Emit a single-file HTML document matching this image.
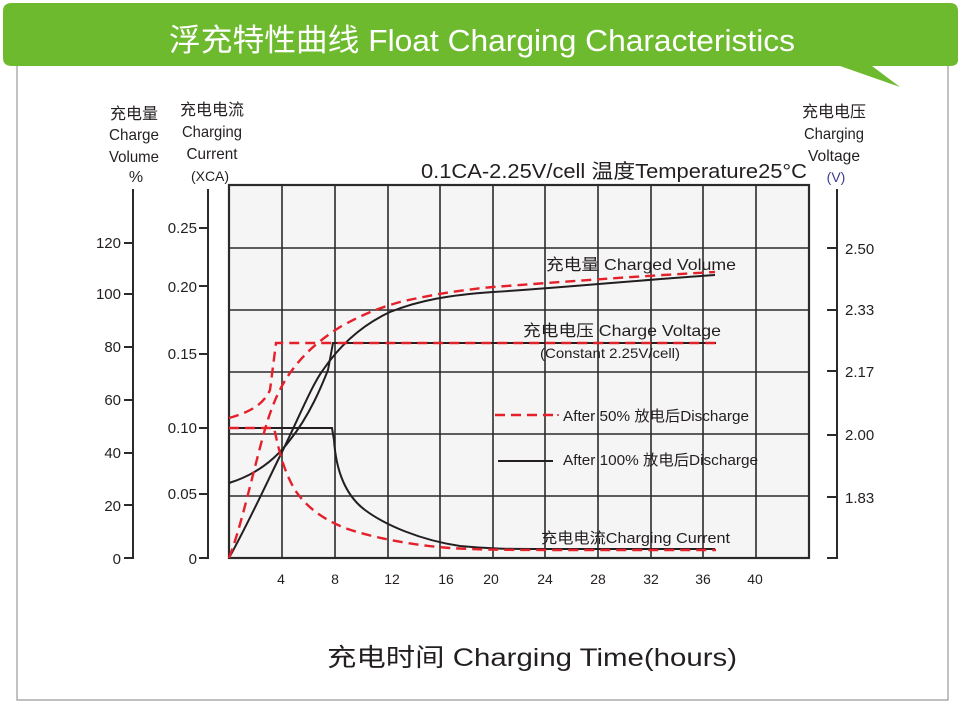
<!DOCTYPE html>
<html><head><meta charset="utf-8"><style>
html,body{margin:0;padding:0;background:#fff;}
svg{display:block;}
text{font-family:"Liberation Sans","Noto Sans CJK SC",sans-serif;fill:#231f20;}
</style></head><body>
<svg width="965" height="705" viewBox="0 0 965 705" xmlns="http://www.w3.org/2000/svg">
<!-- frame -->
<path d="M17 60 V700 H948 V60" fill="none" stroke="#9a9a9a" stroke-width="1.2"/>
<!-- banner -->
<path d="M12 3 H950 Q958 3 958 11 V60 Q958 66 950 66 H872 L900 87 L840 66 H12 Q3 66 3 58 V11 Q3 3 12 3 Z" fill="#6dba2f"/>
<text x="482" y="51" font-size="31" fill="#fff" style="fill:#fff" text-anchor="middle" textLength="626" lengthAdjust="spacingAndGlyphs">浮充特性曲线  Float Charging Characteristics</text>

<!-- plot bg -->
<rect x="229" y="185" width="580" height="373" fill="#f5f5f5"/>
<g stroke="#2d2a2a" stroke-width="1.6" fill="none">
<path d="M282 185V558M335 185V558M388 185V558M440 185V558M493 185V558M545 185V558M598 185V558M651 185V558M703 185V558M756 185V558"/>
<path d="M229 248H809M229 310H809M229 372H809M229 434H809M229 496H809"/>
<rect x="229" y="185" width="580" height="373" stroke-width="2.2"/>
</g>

<!-- axes -->
<g stroke="#2d2a2a" stroke-width="2" fill="none">
<path d="M133 189V558H124M124 243H133M124 294H133M124 347H133M124 400H133M124 453H133M124 505H133"/>
<path d="M208 189V558H199M199 228H208M199 286H208M199 354H208M199 428H208M199 494H208"/>
<path d="M837 189V558H827M827 248H837M827 310H837M827 371H837M827 435H837M827 497H837"/>
</g>
<g font-size="15" text-anchor="end">
<text x="121" y="248">120</text><text x="121" y="299">100</text><text x="121" y="352">80</text><text x="121" y="405">60</text><text x="121" y="458">40</text><text x="121" y="511">20</text><text x="121" y="564">0</text>
<text x="197" y="233">0.25</text><text x="197" y="292">0.20</text><text x="197" y="359">0.15</text><text x="197" y="433">0.10</text><text x="197" y="499">0.05</text><text x="197" y="564">0</text>
</g>
<g font-size="15">
<text x="845" y="254">2.50</text><text x="845" y="315">2.33</text><text x="845" y="377">2.17</text><text x="845" y="440">2.00</text><text x="845" y="503">1.83</text>
</g>
<g font-size="14" text-anchor="middle">
<text x="281" y="584">4</text><text x="335" y="584">8</text><text x="392" y="584">12</text><text x="446" y="584">16</text><text x="491" y="584">20</text><text x="545" y="584">24</text><text x="598" y="584">28</text><text x="651" y="584">32</text><text x="703" y="584">36</text><text x="755" y="584">40</text>
</g>
<!-- axis titles -->
<g font-size="16" text-anchor="middle">
<text x="134" y="119">充电量</text><text x="134" y="140" textLength="50" lengthAdjust="spacingAndGlyphs">Charge</text><text x="134" y="162" textLength="50" lengthAdjust="spacingAndGlyphs">Volume</text><text x="136" y="182">%</text>
<text x="212" y="115">充电电流</text><text x="212" y="137" textLength="60" lengthAdjust="spacingAndGlyphs">Charging</text><text x="212" y="159" textLength="51" lengthAdjust="spacingAndGlyphs">Current</text><text x="210" y="181" font-size="14">(XCA)</text>
<text x="834" y="117">充电电压</text><text x="834" y="139" textLength="60" lengthAdjust="spacingAndGlyphs">Charging</text><text x="834" y="161" textLength="52" lengthAdjust="spacingAndGlyphs">Voltage</text><text x="836" y="182" font-size="14" style="fill:#3b3b8f">(V)</text>
</g>
<text x="421" y="178" font-size="20" textLength="386" lengthAdjust="spacingAndGlyphs">0.1CA-2.25V/cell   温度Temperature25°C</text>

<!-- curves solid -->
<g fill="none" stroke="#231f20" stroke-width="2">
<path d="M229 558 C250 520 268 480 282 452 C300 415 312 385 323 370 C340 345 362 325 390 312 C420 300 450 295 493 292 C560 288 640 280 715 275"/>
<path d="M229 483 C255 475 275 460 290 440 C310 415 322 385 328 370 L333 343 H716"/>
<path d="M229 428 H332 L334 440 C336 470 345 495 365 510 C385 525 420 540 460 546 C490 549 510 549 540 549 H715"/>
<path d="M498 461 H553"/>
</g>
<!-- curves dashed -->
<g fill="none" stroke="#e5202a" stroke-width="2.4" stroke-dasharray="10,6">
<path d="M229 558 C240 530 250 485 262 440 C270 410 278 390 290 373 C305 352 320 340 340 327 C360 316 375 309 400 302 C430 295 460 290 493 287 C560 282 640 276 715 272"/>
<path d="M229 418 C250 412 263 405 270 390 L276 343 H716"/>
<path d="M229 428 H274 C278 445 282 468 295 490 C305 505 320 518 345 528 C370 537 410 545 450 548 C480 550 520 550 560 550 H716"/>
<path d="M495 415 H553"/>
</g>
<circle cx="558" cy="415" r="1" fill="#e5202a"/>
<!-- labels -->
<g font-size="16">
<text x="546" y="270" textLength="190" lengthAdjust="spacingAndGlyphs">充电量 Charged Volume</text>
<text x="523" y="336" textLength="198" lengthAdjust="spacingAndGlyphs">充电电压 Charge Voltage</text>
<text x="540" y="358" font-size="14" textLength="140" lengthAdjust="spacingAndGlyphs">(Constant 2.25V/cell)</text>
<text x="563" y="421" font-size="15" textLength="186" lengthAdjust="spacingAndGlyphs">After 50% 放电后Discharge</text>
<text x="563" y="465" font-size="15" textLength="195" lengthAdjust="spacingAndGlyphs">After 100% 放电后Discharge</text>
<text x="541" y="543" font-size="15" textLength="189" lengthAdjust="spacingAndGlyphs">充电电流Charging Current</text>
</g>
<text x="532" y="666" font-size="25" text-anchor="middle" textLength="410" lengthAdjust="spacingAndGlyphs">充电时间  Charging Time(hours)</text>
</svg>
</body></html>
